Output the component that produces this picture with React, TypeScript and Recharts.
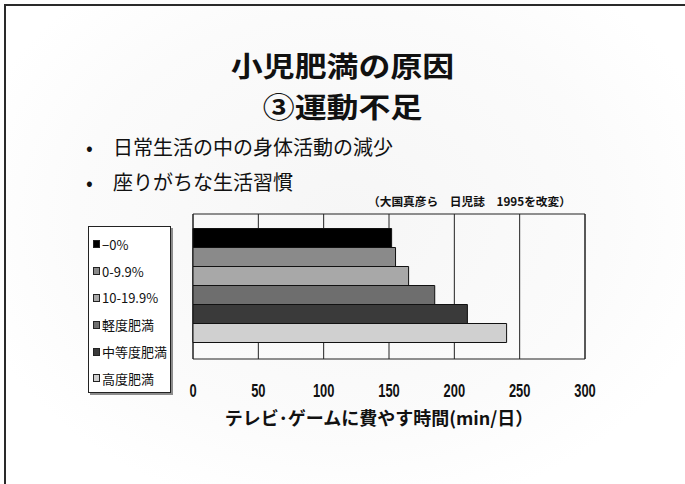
import React from "react";
import {
    BarChart,
    Bar,
    XAxis,
    YAxis,
    CartesianGrid,
    Legend,
    ReferenceArea,
} from "recharts";

// 肥満度区分ごとの1日あたりテレビ・ゲーム時間
const groups = ["−0%", "0-9.9%", "10-19.9%", "軽度肥満", "中等度肥満", "高度肥満"];
const minutes = [152, 155, 165, 185, 210, 240];
const groupColors = ["#000000", "#8a8a8a", "#a8a8a8", "#6e6e6e", "#3a3a3a", "#d0d0d0"];
const xTicks = [0, 50, 100, 150, 200, 250, 300];

const bullets = ["日常生活の中の身体活動の減少", "座りがちな生活習慣"];

const row: Record<string, string | number> = { name: "時間" };
minutes.forEach((m, i) => {
    row[`g${i}`] = m;
});
const data = [row];

const jpFont = "'Noto Sans CJK JP', 'Noto Sans', sans-serif";
const narrowFont = "'Liberation Sans Narrow', 'Noto Sans CJK JP', sans-serif";

// condensed bold tick numbers
const NarrowTick = ({ x, y, payload }: any) => (
    <g transform={`translate(${x},${y})`}>
        <text
            transform="scale(0.68,1)"
            textAnchor="middle"
            dy="0.71em"
            fontSize={19}
            fontWeight={700}
            fontFamily="'Liberation Sans', Arial, sans-serif"
            fill="#111"
        >
            {payload.value}
        </text>
    </g>
);

// legend keeps the series order
const LegendBox = () => (
    <div
        style={{
            width: 83,
            height: 167,
            boxSizing: "border-box",
            border: "1px solid #222",
            boxShadow: "2px 2px 0 #8c8c8c",
            background: "#fff",
            paddingTop: 4,
            paddingLeft: 4,
            fontFamily: narrowFont,
            fontSize: 13,
            color: "#111",
        }}
    >
        {groups.map((g, i) => (
            <div
                key={g}
                style={{ height: 26.8, display: "flex", alignItems: "center", whiteSpace: "nowrap" }}
            >
                <span
                    style={{
                        display: "inline-block",
                        width: 7,
                        height: 8,
                        boxSizing: "border-box",
                        border: "1px solid #222",
                        background: groupColors[i],
                        marginRight: 2,
                    }}
                />
                {g}
            </div>
        ))}
    </div>
);

const App = () => {
    return (
        <div
            style={{
                position: "absolute",
                left: 0,
                top: 0,
                width: 685,
                height: 484,
                overflow: "hidden",
                background: "radial-gradient(ellipse at 50% 45%, #f6f6f6 0%, #fbfbfb 55%, #ffffff 80%)",
                fontFamily: jpFont,
            }}
        >
            {/* slide frame */}
            <div
                style={{
                    position: "absolute",
                    left: 4,
                    top: 4,
                    width: 700,
                    height: 500,
                    borderTop: "2px solid #2a2a2a",
                    borderLeft: "2px solid #2a2a2a",
                }}
            />
            {["小児肥満の原因", "③運動不足"].map((t, i) => (
                <div
                    key={t}
                    style={{
                        position: "absolute",
                        left: 0,
                        top: 45 + i * 41,
                        width: 685,
                        textAlign: "center",
                        fontSize: 28,
                        fontWeight: 700,
                        lineHeight: "40px",
                        color: "#111",
                        transform: "scaleX(1.14)",
                        transformOrigin: "342px 0",
                    }}
                >
                    {t}
                </div>
            ))}
            {bullets.map((b, i) => (
                <div
                    key={b}
                    style={{
                        position: "absolute",
                        left: 86,
                        top: 133 + i * 35,
                        fontSize: 20,
                        lineHeight: "28px",
                        color: "#111",
                        whiteSpace: "nowrap",
                    }}
                >
                    <span style={{ display: "inline-block", width: 27 }}>•</span>
                    {b}
                </div>
            ))}
            <div
                style={{
                    position: "absolute",
                    left: 368,
                    top: 193,
                    fontSize: 11.7,
                    fontWeight: 700,
                    lineHeight: "16px",
                    color: "#111",
                    whiteSpace: "nowrap",
                }}
            >
                （大国真彦ら　日児誌　1995を改変）
            </div>

            <div style={{ position: "absolute", left: 0, top: 0 }}>
                <BarChart
                    width={685}
                    height={484}
                    data={data}
                    layout="vertical"
                    barCategoryGap="10%"
                    barGap={0}
                    margin={{ top: 214, right: 100, bottom: 59, left: 110 }}
                >
                    <CartesianGrid horizontal={false} stroke="#222" strokeWidth={1} />
                    <ReferenceArea x1={0} x2={300} fill="none" stroke="#222" strokeWidth={1} />
                    <XAxis
                        type="number"
                        domain={[0, 300]}
                        ticks={xTicks}
                        axisLine={false}
                        tickLine={false}
                        tickSize={6}
                        tickMargin={18}
                        height={66}
                        interval={0}
                        tick={<NarrowTick />}
                        label={{
                            value: "テレビ･ゲームに費やす時間(min/日）",
                            position: "insideBottom",
                            offset: 0,
                            dx: -10,
                            fill: "#111",
                            fontSize: 18,
                            fontWeight: 700,
                            fontFamily: jpFont,
                        }}
                    />
                    <YAxis type="category" dataKey="name" hide />
                    <Legend
                        layout="vertical"
                        align="left"
                        verticalAlign="top"
                        wrapperStyle={{ left: 88, top: 226 }}
                        content={<LegendBox />}
                    />
                    {groups.map((g, i) => (
                        <Bar
                            key={g}
                            dataKey={`g${i}`}
                            name={g}
                            fill={groupColors[i]}
                            stroke="#111"
                            strokeWidth={1}
                            isAnimationActive={false}
                        />
                    ))}
                </BarChart>
            </div>
        </div>
    );
};

export default App;
